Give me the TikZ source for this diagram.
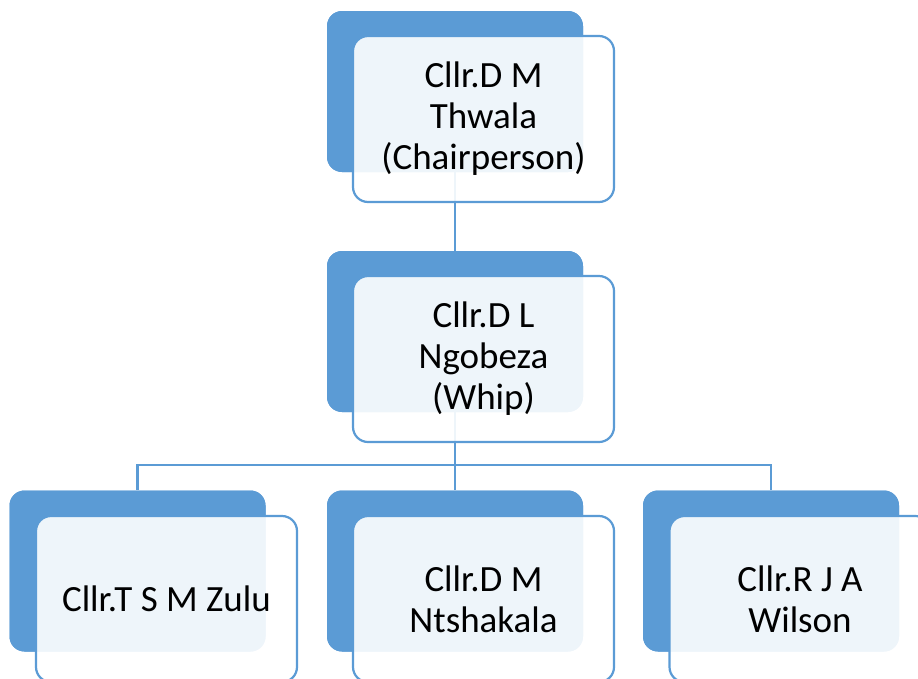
\documentclass[tikz,border=0pt]{standalone}
\usepackage{fontspec}
\setmainfont{Carlito}
\definecolor{accent}{HTML}{5B9BD5}
\begin{document}
\begin{tikzpicture}[x=1pt,y=-1pt,
  backbox/.style={rectangle, rounded corners=15pt, fill=accent, draw=none,
    minimum width=256pt, minimum height=161pt, inner sep=0pt},
  frontbox/.style={rectangle, rounded corners=15pt, draw=accent, line width=2.2pt,
    fill=white, fill opacity=0.9, text opacity=1, text=black,
    minimum width=261pt, minimum height=166pt, inner sep=0pt,
    align=center, font=\fontsize{37}{41}\selectfont},
  link/.style={draw=accent, line width=2.2pt}]
\useasboundingbox (0,0) rectangle (918,678);

% back panels of each card
\node[backbox] (chairB) at (455,91.5) {};
\node[backbox] (whipB)  at (455,331.5) {};
\node[backbox] (zuluB)  at (137.5,571) {};
\node[backbox] (ntsB)   at (455,571) {};
\node[backbox] (wilB)   at (771,571) {};

% connectors between the cards
\coordinate (bus) at (455,465);
\draw[link] (chairB.south) -- (whipB.north);
\draw[link] (whipB.south) -- (bus);
\draw[link] (bus) -| (zuluB.north);
\draw[link] (bus) -- (ntsB.north);
\draw[link] (bus) -| (wilB.north);

% redraw back panels over the connector ends
\node[backbox] at (chairB) {};
\node[backbox] at (whipB) {};
\node[backbox] at (zuluB) {};
\node[backbox] at (ntsB) {};
\node[backbox] at (wilB) {};

% front cards with names
\node[frontbox] (chair) at (483.5,119) {Cllr.D M\\Thwala\\(Chairperson)};
\node[frontbox] (whip)  at (483.5,359) {Cllr.D L\\Ngobeza\\(Whip)};
\node[frontbox] (zulu)  at (166.5,599) {Cllr.T S M Zulu};
\node[frontbox] (nts)   at (483.5,599) {Cllr.D M\\Ntshakala};
\node[frontbox] (wil)   at (800,599) {Cllr.R J A\\Wilson};
\end{tikzpicture}
\end{document}
